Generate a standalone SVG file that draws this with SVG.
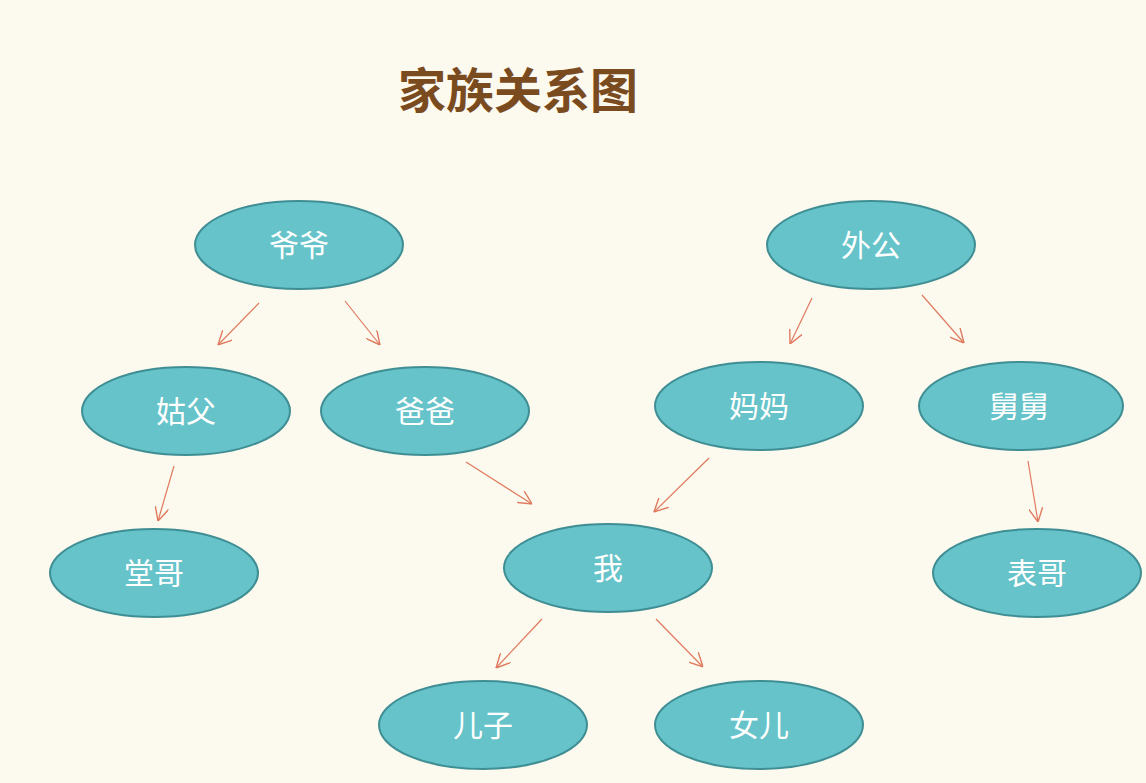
<svg xmlns="http://www.w3.org/2000/svg" width="1146" height="783" viewBox="0 0 1146 783">
<style>
.n ellipse{fill:#65c3c9;stroke:#3f8e94;stroke-width:2}
.n text{fill:#fff;font-family:"Noto Sans CJK SC",sans-serif;font-size:30px;text-anchor:middle;dominant-baseline:central}
#edges line{stroke:#e07a5f;stroke-width:1.2;marker-end:url(#a)}
</style>
<defs><marker id="a" viewBox="0 0 10 10" refX="10" refY="5" markerWidth="14" markerHeight="14" markerUnits="userSpaceOnUse" orient="auto"><path d="M0,0L10,5L0,10" fill="none" stroke="#e07a5f" stroke-width="1"/></marker></defs>
<rect width="1146" height="783" fill="#fcf9ee"/>
<text x="518" y="87" font-family="Noto Sans CJK SC,sans-serif" font-size="48" font-weight="bold" fill="#7a4b1f" text-anchor="middle" dominant-baseline="central">家族关系图</text>
<g id="edges">
<line x1="259" y1="303" x2="218" y2="345"/>
<line x1="345" y1="301" x2="380" y2="345"/>
<line x1="812" y1="298" x2="790" y2="344"/>
<line x1="922" y1="295" x2="964" y2="343"/>
<line x1="174" y1="466" x2="158" y2="521"/>
<line x1="466" y1="462" x2="532" y2="504"/>
<line x1="709" y1="458" x2="654" y2="512"/>
<line x1="1028" y1="461" x2="1038" y2="522"/>
<line x1="542" y1="619" x2="496" y2="668"/>
<line x1="656" y1="619" x2="703" y2="667"/>
</g>
<g id="n1" class="n"><ellipse cx="299" cy="245" rx="104" ry="44"/><text x="299" y="243">爷爷</text></g>
<g id="n2" class="n"><ellipse cx="871" cy="245" rx="104" ry="44"/><text x="871" y="243">外公</text></g>
<g id="n3" class="n"><ellipse cx="186" cy="411" rx="104" ry="44"/><text x="186" y="409">姑父</text></g>
<g id="n4" class="n"><ellipse cx="425" cy="411" rx="104" ry="44"/><text x="425" y="409">爸爸</text></g>
<g id="n5" class="n"><ellipse cx="759" cy="406" rx="104" ry="44"/><text x="759" y="404">妈妈</text></g>
<g id="n6" class="n"><ellipse cx="1021" cy="406" rx="102" ry="44"/><text x="1019" y="404">舅舅</text></g>
<g id="n7" class="n"><ellipse cx="154" cy="573" rx="104" ry="44"/><text x="154" y="571">堂哥</text></g>
<g id="n8" class="n"><ellipse cx="608" cy="568" rx="104" ry="44"/><text x="608" y="566">我</text></g>
<g id="n9" class="n"><ellipse cx="1037" cy="573" rx="104" ry="44"/><text x="1037" y="571">表哥</text></g>
<g id="n10" class="n"><ellipse cx="483" cy="725" rx="104" ry="44"/><text x="483" y="723">儿子</text></g>
<g id="n11" class="n"><ellipse cx="759" cy="725" rx="104" ry="44"/><text x="759" y="723">女儿</text></g>
</svg>
